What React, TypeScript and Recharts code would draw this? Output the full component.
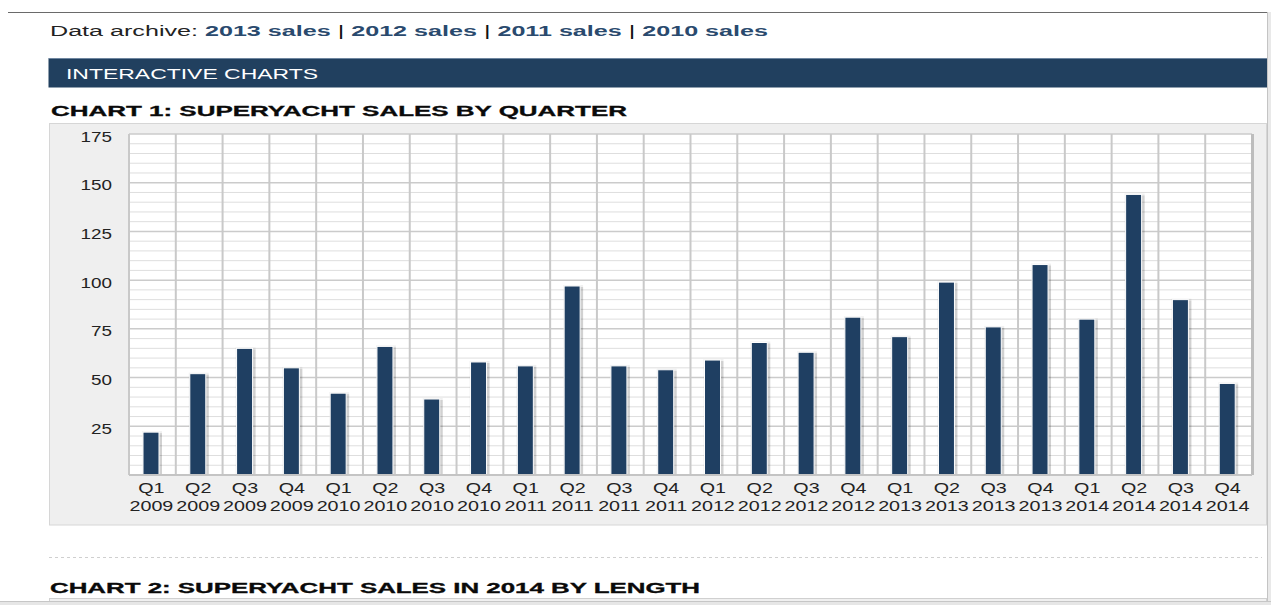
import { BarChart, Bar, XAxis, YAxis, CartesianGrid } from 'recharts';

// quarter labels and years (x axis, two lines per tick)
const quarters = [
  'Q1', 'Q2', 'Q3', 'Q4', 'Q1', 'Q2', 'Q3', 'Q4', 'Q1', 'Q2', 'Q3', 'Q4',
  'Q1', 'Q2', 'Q3', 'Q4', 'Q1', 'Q2', 'Q3', 'Q4', 'Q1', 'Q2', 'Q3', 'Q4',
];
const years = [
  '2009', '2009', '2009', '2009', '2010', '2010', '2010', '2010',
  '2011', '2011', '2011', '2011', '2012', '2012', '2012', '2012',
  '2013', '2013', '2013', '2013', '2014', '2014', '2014', '2014',
];
// superyacht sales per quarter
const sales = [
  22, 52, 65, 55, 42, 66, 39, 58, 56, 97, 56, 54,
  59, 68, 63, 81, 71, 99, 76, 108, 80, 144, 90, 47,
];
const yTicks = [25, 50, 75, 100, 125, 150, 175];
const majorLines = [0, 25, 50, 75, 100, 125, 150, 175];
const minorLines = [
  5, 10, 15, 20, 30, 35, 40, 45, 55, 60, 65, 70, 80, 85, 90, 95,
  105, 110, 115, 120, 130, 135, 140, 145, 155, 160, 165, 170,
];

const archiveLinks = ['2013 sales', '2012 sales', '2011 sales', '2010 sales'];

const data = sales.map((v, i) => ({
  key: `${quarters[i]} ${years[i]}`,
  sales: v,
}));

const FONT = '"Liberation Sans", Arial, sans-serif';
const NAVY = '#1f3f62';

function QuarterTick({ x, y, payload }: any) {
  const [q, yr] = String(payload.value).split(' ');
  return (
    <g transform={`translate(${x - 1},${y}) scale(1.36,1)`}>
      <text x={0} y={18} textAnchor="middle" fontSize={14.5} fill="#222" fontFamily={FONT}>
        {q}
      </text>
      <text x={0} y={36.5} textAnchor="middle" fontSize={14.5} fill="#222" fontFamily={FONT}>
        {yr}
      </text>
    </g>
  );
}

function ValueTick({ x, y, payload }: any) {
  return (
    <g transform={`translate(${x},${y}) scale(1.3,1)`}>
      <text x={0} y={7.5} textAnchor="end" fontSize={14.5} fill="#222" fontFamily={FONT}>
        {payload.value}
      </text>
    </g>
  );
}

function ShadowBar({ x, y, width, height }: any) {
  if (!height || height <= 0) return null;
  return (
    <g>
      <rect x={x - 2} y={y - 1} width={width + 4} height={height + 1} fill="rgba(0,0,0,0.06)" />
      <rect x={x + 1} y={y + 1} width={width + 1} height={height - 1} fill="rgba(0,0,0,0.13)" />
      <rect x={x - 1} y={y} width={width} height={height} fill={NAVY} stroke="#fff" strokeWidth={1} />
    </g>
  );
}

export default function App() {
  return (
    <div
      style={{
        position: 'fixed',
        left: 0,
        top: 0,
        width: 1271,
        height: 605,
        overflow: 'hidden',
        background: '#fff',
        fontFamily: FONT,
      }}
    >
      <svg width={1271} height={605} style={{ position: 'absolute', left: 0, top: 0 }}>
        <line x1={8} x2={1267} y1={12.5} y2={12.5} stroke="#6a6a6a" strokeWidth={1} />

        <text x={50} y={35.5} fontSize={14} fontFamily={FONT} fill="#222" textLength={718} lengthAdjust="spacingAndGlyphs">
          Data archive:{' '}
          {archiveLinks.map((l, i) => (
            <tspan key={l}>
              <tspan fontWeight="bold" fill="#2a4a6e">{l}</tspan>
              {i < archiveLinks.length - 1 ? <tspan fill="#111"> | </tspan> : null}
            </tspan>
          ))}
        </text>

        <rect x={48.5} y={58.5} width={1218.5} height={29} fill="#21405f" />
        <line x1={48.5} x2={1267} y1={58.5} y2={58.5} stroke="#6f86a0" strokeWidth={1} />
        <text x={66} y={79} fontSize={14} fontFamily={FONT} fill="#fff" textLength={252} lengthAdjust="spacingAndGlyphs">
          INTERACTIVE CHARTS
        </text>

        <text x={51} y={115.5} fontSize={14} fontWeight="bold" fontFamily={FONT} fill="#0a0a0a" stroke="#0a0a0a" strokeWidth={0.3} textLength={576} lengthAdjust="spacingAndGlyphs">
          CHART 1: SUPERYACHT SALES BY QUARTER
        </text>

        <rect x={49.5} y={123.5} width={1217} height={401.5} fill="#efefef" stroke="#d6d6d6" strokeWidth={1} />

        <line x1={49} x2={1262} y1={557.5} y2={557.5} stroke="#cfcfcf" strokeWidth={1} strokeDasharray="3 3" />
        <text x={50} y={593} fontSize={14} fontWeight="bold" fontFamily={FONT} fill="#0a0a0a" stroke="#0a0a0a" strokeWidth={0.3} textLength={650} lengthAdjust="spacingAndGlyphs">
          CHART 2: SUPERYACHT SALES IN 2014 BY LENGTH
        </text>
        <rect x={49.5} y={598.5} width={1217} height={10} fill="#f0f0f0" stroke="#d0d0d0" strokeWidth={1} />

        <rect x={0} y={601} width={1271} height={4} fill="#e6e6e6" />
        <line x1={0} x2={1271} y1={601.5} y2={601.5} stroke="#c6c6c6" strokeWidth={1} />
        <rect x={1267} y={12} width={4} height={589} fill="#e9e9e9" />
        <line x1={1267.5} x2={1267.5} y1={12} y2={601} stroke="#c4c4c4" strokeWidth={1} />
      </svg>

      <div style={{ position: 'absolute', left: 49, top: 123 }}>
        <BarChart
          width={1218}
          height={402}
          data={data}
          margin={{ top: 11, right: 15, bottom: 10, left: 20 }}
          barCategoryGap={0}
        >
          <CartesianGrid
            fill="#fff"
            vertical={false}
            horizontalValues={minorLines}
            stroke="#dedede"
            strokeWidth={1}
          />
          <CartesianGrid vertical={false} horizontalValues={majorLines} stroke="#cbcbcb" strokeWidth={1.5} />
          <CartesianGrid
            horizontal={false}
            stroke="#c9c9c9"
            strokeWidth={2}
            verticalCoordinatesGenerator={({ offset }: any) =>
              quarters.map((_, i) => offset.left + (i * offset.width) / quarters.length)
            }
          />
          <CartesianGrid
            horizontal={false}
            stroke="#bdbdbd"
            strokeWidth={3}
            verticalCoordinatesGenerator={({ offset }: any) => [offset.left + offset.width + 0.5]}
          />
          <XAxis
            dataKey="key"
            height={40}
            interval={0}
            tickSize={0}
            tickMargin={0}
            tickLine={false}
            axisLine={{ stroke: '#c4c4c4', strokeWidth: 2 }}
            tick={<QuarterTick />}
          />
          <YAxis
            width={60}
            domain={[0, 175]}
            ticks={yTicks}
            interval={0}
            tickSize={0}
            tickMargin={17}
            tickLine={false}
            axisLine={false}
            tick={<ValueTick />}
          />
          <Bar dataKey="sales" barSize={16} shape={<ShadowBar />} isAnimationActive={false} />
        </BarChart>
      </div>
    </div>
  );
}
